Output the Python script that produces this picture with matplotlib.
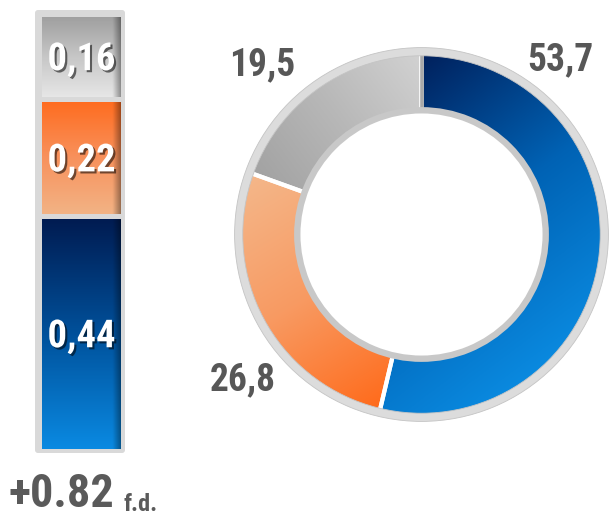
import os
import re
import numpy as np
import matplotlib
matplotlib.use("Agg")
import matplotlib.pyplot as plt
from matplotlib import font_manager as fm
from matplotlib.font_manager import FontProperties
from matplotlib.colors import LinearSegmentedColormap
from matplotlib.patches import FancyBboxPatch, Wedge
import matplotlib.patheffects as pe

# ---------------- data ----------------
bar_segments = ["blue", "orange", "gray"]        # bottom -> top
bar_values = [0.44, 0.22, 0.16]
donut_segments = ["blue", "orange", "gray"]      # clockwise from 12 o'clock
donut_values = [53.7, 26.8, 19.5]
unit_text = "f.d."

# ---------------- style ----------------
W, H, DPI = 609, 517, 100
bar_grad = {  # top -> bottom
    "blue": ["#001a4f", "#00509a", "#0a8ae2"],
    "orange": ["#ff6a1c", "#f8915c", "#f2b486"],
    "gray": ["#9c9c9c", "#c6c6c6", "#e8e8e8"],
}
donut_grad = {
    "blue": ["#00205c", "#0062b4", "#0a8ae0"],
    "orange": ["#f4b78a", "#f89a62", "#ff6a1a"],
    "gray": ["#a2a2a2", "#b8b8b8", "#d2d2d2"],
}
donut_dir = {"blue": (0.6, -0.8), "orange": (0.52, -0.85), "gray": (0.8, 0.6)}
frame_color = "#d9d9d9"
label_color = "#575757"


def pick_font():
    prefs = ["oswaldbold", "robotocondensedbold", "liberationsansnarrowbold",
             "notosansextracondensedbold", "notosanscondensedbold",
             "opensanscondbold", "dejavusanscondensedbold",
             "notosanssemicondensedbold"]
    found = {}
    for f in fm.fontManager.ttflist:
        base = os.path.splitext(os.path.basename(f.fname))[0].lower()
        key = re.sub(r"[^a-z0-9]", "", base)
        found.setdefault(key, f.fname)
    for p in prefs:
        if p in found:
            return found[p]
    return fm.findfont(FontProperties(family="DejaVu Sans", weight="bold"))


FONT = pick_font()

fig = plt.figure(figsize=(W / DPI, H / DPI), dpi=DPI)
fig.patch.set_facecolor("white")
bg = fig.add_axes([0, 0, 1, 1])
bg.set_xlim(0, W)
bg.set_ylim(H, 0)
bg.axis("off")


def px_axes(x0, y0, x1, y1):
    a = fig.add_axes([x0 / W, (H - y1) / H, (x1 - x0) / W, (y1 - y0) / H])
    a.patch.set_alpha(0)
    return a


# ---------------- stacked bar ----------------
bg.add_patch(FancyBboxPatch((35, 10), 90, 443, boxstyle="round,pad=0,rounding_size=3",
                            fc=frame_color, ec="none"))
axb = px_axes(38.5, 13.5, 122.5, 450.5)
axb.axis("off")
bottoms = np.concatenate([[0.0], np.cumsum(bar_values)[:-1]])
bars = axb.bar([0] * len(bar_values), bar_values, width=1.0, bottom=bottoms,
               color=[bar_grad[s][1] for s in bar_segments],
               edgecolor=frame_color, linewidth=3.6, zorder=3)
for bar, s in zip(bars, bar_segments):
    x0, y0 = bar.get_x(), bar.get_y()
    w, h = bar.get_width(), bar.get_height()
    cmap = LinearSegmentedColormap.from_list(s, bar_grad[s])
    rows = cmap(np.linspace(0, 1, 200))[:, :3]
    cols = np.linspace(0, 1, 80)
    shade = 1 - 0.45 * np.clip((cols - 0.88) / 0.12, 0, 1)
    img = rows[:, None, :] * shade[None, :, None]
    im = axb.imshow(img, extent=(x0, x0 + w, y0, y0 + h), origin="upper",
                    aspect="auto", zorder=2, interpolation="bilinear")
    im.set_clip_path(bar)
    bar.set_facecolor("none")
axb.set_xlim(-0.5, 0.5)
axb.set_ylim(0, sum(bar_values))

# ---------------- donut ----------------
R = 182
cx, cy = 421.5, 234.5
L = 1.05
axp = px_axes(cx - L * R, cy - L * R, cx + L * R, cy + L * R)
wedges, _ = axp.pie(donut_values, startangle=90, counterclock=False, radius=1.0,
                    colors=[donut_grad[s][1] for s in donut_segments],
                    wedgeprops=dict(width=0.33, edgecolor="white", linewidth=3.0))
n = 500
g = np.linspace(-1, 1, n)
X, Y = np.meshgrid(g, g[::-1])
pts = np.column_stack([X.ravel(), Y.ravel()])
for wdg, s in zip(wedges, donut_segments):
    dx, dy = donut_dir[s]
    proj = X * dx + Y * dy
    mask = wdg.get_path().contains_points(pts).reshape(X.shape)
    pmin, pmax = proj[mask].min(), proj[mask].max()
    t = np.clip((proj - pmin) / (pmax - pmin), 0, 1)
    cmap = LinearSegmentedColormap.from_list(s, donut_grad[s])
    im = axp.imshow(cmap(t), extent=(-1, 1, -1, 1), origin="upper", zorder=1.5,
                    interpolation="bilinear")
    im.set_clip_path(wdg)
    wdg.set_facecolor("none")
    wdg.set_zorder(2)
# darker seam at 12 o'clock (start of the first wedge)
axp.plot([0, 0], [0.67, 1.0], color="#a9a9a9", lw=2.6, zorder=2.5, solid_capstyle="butt")
axp.add_patch(Wedge((0, 0), 1.027, 0, 360, width=0.045, fc="#dcdcdc", ec="#c4c4c4", lw=0.6, zorder=3))
axp.add_patch(Wedge((0, 0), 0.70, 0, 360, width=0.035, fc="#c8c8c8", ec="none", zorder=3))
axp.set_xlim(-L, L)
axp.set_ylim(-L, L)
axp.set_aspect("equal")
axp.axis("off")

# ---------------- text overlay (on top of everything) ----------------
top = fig.add_axes([0, 0, 1, 1])
top.set_xlim(0, W)
top.set_ylim(H, 0)
top.axis("off")
top.patch.set_alpha(0)


def put(x, y, s, cap_px, max_w, color, ha="center", va="baseline", effects=None):
    size = cap_px / 0.72 * 72 / DPI
    t = top.text(x, y, s, fontproperties=FontProperties(fname=FONT, size=size),
                 color=color, ha=ha, va=va, path_effects=effects, zorder=10)
    r = fig.canvas.get_renderer()
    w = t.get_window_extent(r).width
    if w > max_w:
        t.set_fontproperties(FontProperties(fname=FONT, size=size * max_w / w))
    return t


shadow = [pe.SimplePatchShadow(offset=(1.5, -1.5), shadow_rgbFace=(0, 0, 0), alpha=0.55), pe.Normal()]
for bar, v in zip(bars, bar_values):
    yc = bar.get_y() + bar.get_height() / 2
    d = axb.transData.transform((0, yc))
    px, py = top.transData.inverted().transform(d)
    put(px + 1, py + 14, f"{v:.2f}".replace(".", ","), 28, 68, "white", effects=shadow)

put(8, 516, f"+{sum(bar_values):.2f}", 36, 106, "#5a5a5a", ha="left", va="bottom")
put(124, 516, unit_text, 21, 34, "#5a5a5a", ha="left", va="bottom")

label_pos = {"blue": (560, 70), "gray": (262, 75), "orange": (243, 390)}
for s, v in zip(donut_segments, donut_values):
    x, y = label_pos[s]
    put(x, y, f"{v:.1f}".replace(".", ","), 27, 68, label_color)

fig.savefig("out.png", dpi=DPI)
